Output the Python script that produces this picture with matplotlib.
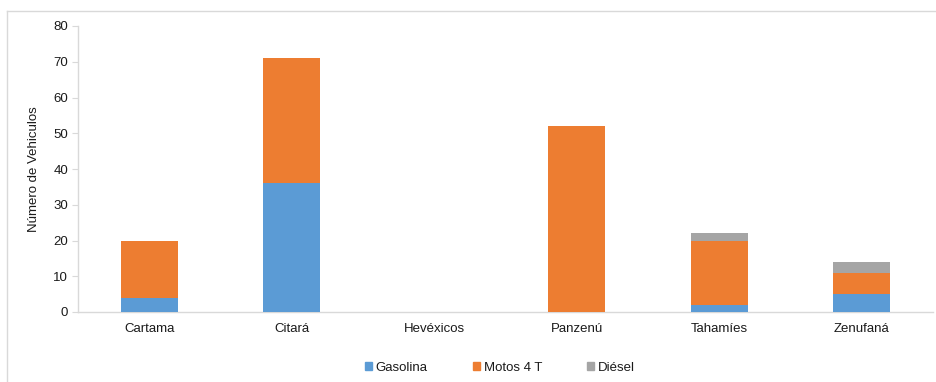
import matplotlib
matplotlib.use("Agg")
import matplotlib.pyplot as plt
from matplotlib.lines import Line2D
import numpy as np

plt.rcParams['font.family'] = ['Liberation Sans', 'DejaVu Sans']

categories = ["Cartama", "Citará", "Hevéxicos", "Panzenú", "Tahamíes", "Zenufaná"]
gasolina = [4, 36, 0, 0, 2, 5]
motos4t = [16, 35, 0, 52, 18, 6]
diesel = [0, 0, 0, 0, 2, 3]
series_names = ["Gasolina", "Motos 4 T", "Diésel"]
colors = ["#5B9BD5", "#ED7D31", "#A5A5A5"]
yticks = [0, 10, 20, 30, 40, 50, 60, 70, 80]

fig = plt.figure(figsize=(9.37, 3.82), dpi=100)
ax = fig.add_axes([78/937, 1-312/382, (933-78)/937, (312-26)/382])

x = np.arange(len(categories))
w = 0.4
b = np.zeros(len(categories))
for vals, name, c in zip([gasolina, motos4t, diesel], series_names, colors):
    ax.bar(x, vals, w, bottom=b, color=c, label=name, zorder=3)
    b = b + np.array(vals)

ax.set_xlim(-0.5, len(categories) - 0.5)
ax.set_ylim(0, 80)
ax.set_yticks(yticks)
ax.set_xticks(x)
ax.set_xticklabels(categories)
ax.tick_params(axis='x', length=0, pad=8, labelsize=9.5, labelcolor='#1a1a1a')
ax.tick_params(axis='y', length=4, color='#D9D9D9', pad=3, labelsize=9.5, labelcolor='#1a1a1a')
for s in ['top', 'right']:
    ax.spines[s].set_visible(False)
for s in ['left', 'bottom']:
    ax.spines[s].set_color('#D9D9D9')
    ax.spines[s].set_linewidth(1.0)
ax.set_ylabel("Número de Vehiculos", fontsize=9.5, labelpad=10, color='#1a1a1a')

handles = [plt.Rectangle((0, 0), 1, 1, color=c) for c in colors]
leg = fig.legend(handles, series_names, loc='center', bbox_to_anchor=(500/937, 1-368/382),
                 ncol=3, frameon=False, fontsize=9.5, handlelength=0.55, handleheight=0.55,
                 handletextpad=0.3, columnspacing=3.4)
for t in leg.get_texts():
    t.set_color('#1a1a1a')

# outer chart frame
fig.add_artist(Line2D([7/937, 1.0], [1-11/382, 1-11/382], color='#D9D9D9', lw=1, transform=fig.transFigure))
fig.add_artist(Line2D([7/937, 7/937], [1-11/382, 0.0], color='#D9D9D9', lw=1, transform=fig.transFigure))

fig.savefig("out.png", dpi=100)
